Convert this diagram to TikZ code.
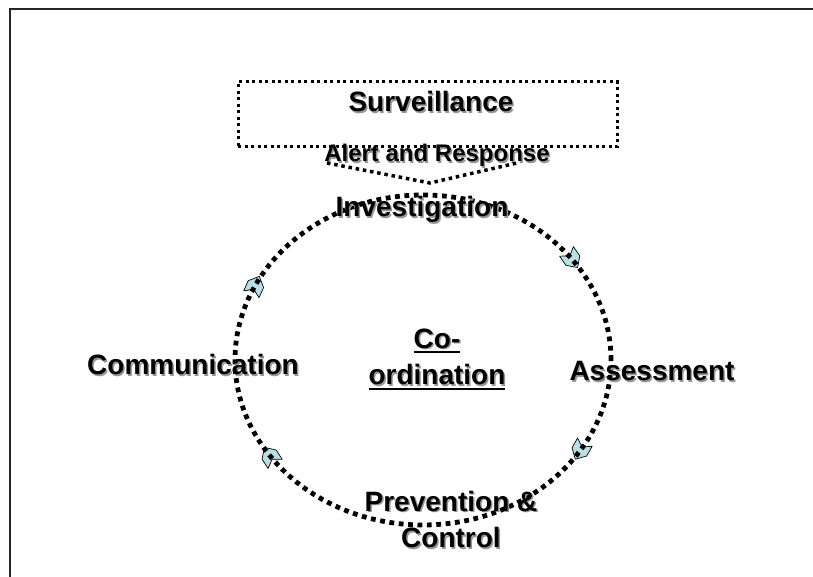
\documentclass[tikz,border=0pt]{standalone}
\usepackage{fontspec}
\setmainfont{Liberation Sans}
\usepackage{xcolor}
\usepackage{tikz}
\usetikzlibrary{shapes,backgrounds,calc,positioning}

\definecolor{arrowcyan}{RGB}{184,224,228}
\definecolor{shadegray}{RGB}{150,150,150}
% text with a soft drop shadow
\newcommand{\shd}[1]{\makebox[0pt][l]{\hspace{1.5pt}\raisebox{-1.5pt}{\color{shadegray}#1}}#1}
% thick underline
\newcommand{\undl}[1]{\setbox0\hbox{#1}\makebox[0pt][l]{\rule[-5pt]{\wd0}{2pt}}\box0}

\begin{document}
\begin{tikzpicture}[x=1pt, y=1pt,
    lbl/.style={font=\fontsize{28}{36.5}\selectfont\bfseries, align=center, inner sep=0pt},
    sbox/.style={draw, line width=3pt, dash pattern=on 3pt off 3.5pt, inner sep=0pt, outer sep=0pt},
    ring/.style={ellipse, draw, line width=4.8pt, dash pattern=on 4.8pt off 4.6pt, inner sep=0pt, outer sep=0pt},
    chev/.style={line width=3.5pt, dash pattern=on 3.5pt off 3.8pt},
    marker/.style={fill=arrowcyan, draw=black, line width=0.7pt, line join=round}]

    \useasboundingbox (0,0) rectangle (813,577);

    % frame
    \draw [black!85, line width=2pt] (10,0) -- (10,568) -- (813,568);

    \node[sbox, minimum width=379, minimum height=65] (surv) at (427.5,462.5) {};
    \node[lbl, anchor=base] (survtxt) at (431,465) {\shd{Surveillance}};
    \node[lbl, anchor=base, font=\fontsize{24}{28}\selectfont\bfseries] (alert) at (437,415) {\shd{Alert and Response}};

    \draw [chev] (327,414) -- (430,394) -- (517,414);

    \node[ring, minimum width=376, minimum height=330] (cyc) at (423,217) {};

    \begin{scope}[on background layer]
    \foreach \ang in {156,34.5,212.7,330.6}{
      \filldraw[marker, shift={(cyc.\ang)}, rotate=\ang-90, scale=1.4]
        (-7,-6) -- (1,-6) -- (7,0) -- (1,6) -- (-7,6) -- (-3,0) -- cycle;
    }
    \end{scope}

    \node[lbl, anchor=base] (invest) at (422,360) {\shd{Investigation}};
    \node[lbl, anchor=base] (assess) at (652,196) {\shd{Assessment}};
    \node[lbl, anchor=base] (comm) at (193,202) {\shd{Communication}};
    \node[lbl, anchor=base] (coord) at (437,192) {\undl{\shd{Co-}}\\\undl{\shd{ordination}}};
    \node[lbl, anchor=base] (prev) at (451,29) {\shd{Prevention \&}\\\shd{Control}};

\end{tikzpicture}
\end{document}
